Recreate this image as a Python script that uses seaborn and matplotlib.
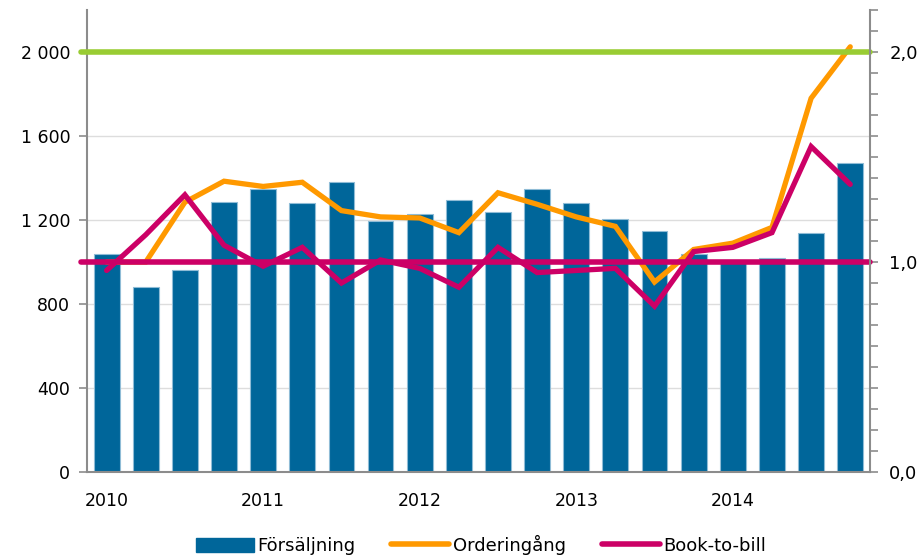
import numpy as np
import pandas as pd
import matplotlib
matplotlib.use("Agg")
import matplotlib.pyplot as plt
import seaborn as sns
from matplotlib.patches import Patch
from matplotlib.lines import Line2D
from matplotlib.ticker import FuncFormatter, MultipleLocator

# === Data ===
kvartal = [f"{y}Q{q}" for y in range(2010, 2015) for q in range(1, 5)]
ar = ["2010", "2011", "2012", "2013", "2014"]

forsaljning = [1040, 880, 960, 1285, 1350, 1280, 1380, 1195, 1230, 1295,
               1240, 1350, 1280, 1205, 1150, 1040, 1010, 1020, 1140, 1470]
orderingang = [1000, 1000, 1285, 1385, 1360, 1380, 1245, 1215, 1210, 1140,
               1330, 1275, 1215, 1170, 905, 1060, 1090, 1165, 1780, 2025]
book_to_bill = [0.96, 1.13, 1.32, 1.08, 0.98, 1.07, 0.90, 1.01, 0.97, 0.88,
                1.07, 0.95, 0.96, 0.97, 0.79, 1.05, 1.07, 1.14, 1.55, 1.37]

BLA = "#00669A"
ORANGE = "#FF9900"
MAGENTA = "#CC0066"
GRON = "#99CC33"
GRA = "#8C8C8C"

df = pd.DataFrame({"kvartal": kvartal, "pos": np.arange(len(kvartal)),
                   "forsaljning": forsaljning, "orderingang": orderingang,
                   "btb": book_to_bill})

sns.set_style("white")
plt.rcParams["font.family"] = ["DejaVu Sans"]
plt.rcParams["text.color"] = "black"

fig = plt.figure(figsize=(9.22, 5.58), dpi=100)
ax = fig.add_axes([0.0944, 0.154, 0.849, 0.828])

# === Staplar ===
sns.barplot(data=df, x="kvartal", y="forsaljning", color=BLA, width=0.66,
            edgecolor="#8fbcd6", linewidth=0.8, saturation=1, ax=ax, zorder=2)

# === Orderingång (vänster axel) ===
sns.lineplot(data=df, x="pos", y="orderingang", color=ORANGE, linewidth=3.8,
             ax=ax, zorder=3, solid_capstyle="round", solid_joinstyle="miter")

ax.set_xlim(-0.5, len(kvartal) - 0.5)
ax.set_ylim(0, 2200)
ax.set_yticks([0, 400, 800, 1200, 1600, 2000])
ax.yaxis.set_major_formatter(FuncFormatter(lambda v, p: f"{int(v):,}".replace(",", " ")))
ax.grid(axis="y", color="#DDDDDD", linewidth=1, zorder=0)
ax.set_axisbelow(True)

# x-axel: streck mellan kvartal, år som etiketter
ax.set_xticks(np.arange(-0.5, len(kvartal), 1))
ax.set_xticklabels([])
ax.set_xticks([0, 4, 8, 12, 16], minor=True)
ax.set_xticklabels(ar, minor=True)
ax.tick_params(axis="x", which="major", length=6, width=1.2, color=GRA, direction="out")
ax.tick_params(axis="x", which="minor", length=0, pad=14, labelsize=12.5, labelcolor="black")
ax.tick_params(axis="y", length=6, width=1.2, color=GRA, direction="out", labelsize=12.5,
               pad=6, labelcolor="black")
ax.set_xlabel("")
ax.set_ylabel("")

for s in ["left", "bottom"]:
    ax.spines[s].set_color(GRA)
    ax.spines[s].set_linewidth(1.5)
ax.spines["top"].set_visible(False)
ax.spines["right"].set_visible(False)

# === Book-to-bill (höger axel) ===
ax2 = ax.twinx()
ax2.axhline(2.0, color=GRON, linewidth=4, zorder=2, xmin=-0.008, xmax=1.0, clip_on=False)
ax2.axhline(1.0, color=MAGENTA, linewidth=4, zorder=2, xmin=-0.008, xmax=1.0, clip_on=False)
sns.lineplot(data=df, x="pos", y="btb", color=MAGENTA, linewidth=3.8,
             ax=ax2, zorder=3, solid_capstyle="round", solid_joinstyle="miter")
ax2.set_ylim(0, 2.2)
ax2.set_yticks([0, 1, 2])
ax2.yaxis.set_major_formatter(FuncFormatter(lambda v, p: f"{v:.1f}".replace(".", ",")))
ax2.yaxis.set_minor_locator(MultipleLocator(0.1))
ax2.tick_params(axis="y", which="major", length=6, width=1.2, color=GRA, labelsize=13,
                pad=8, labelcolor="black")
ax2.tick_params(axis="y", which="minor", length=6, width=1.2, color=GRA)
ax2.set_ylabel("")
ax2.set_xlim(-0.5, len(kvartal) - 0.5)
for s in ["top", "left", "bottom"]:
    ax2.spines[s].set_visible(False)
ax2.spines["right"].set_color(GRA)
ax2.spines["right"].set_linewidth(1.5)

# === Legend ===
handles = [Patch(facecolor=BLA, edgecolor=BLA),
           Line2D([], [], color=ORANGE, linewidth=4, solid_capstyle="round"),
           Line2D([], [], color=MAGENTA, linewidth=4, solid_capstyle="round")]
fig.legend(handles, ["Försäljning", "Orderingång", "Book-to-bill"],
           loc="center", bbox_to_anchor=(481 / 922, 1 - 545 / 558), ncol=3, frameon=False,
           fontsize=13, handlelength=3.2, handleheight=0.8, handletextpad=0.2,
           columnspacing=2.0, borderpad=0)

fig.savefig("out.png", dpi=100)
